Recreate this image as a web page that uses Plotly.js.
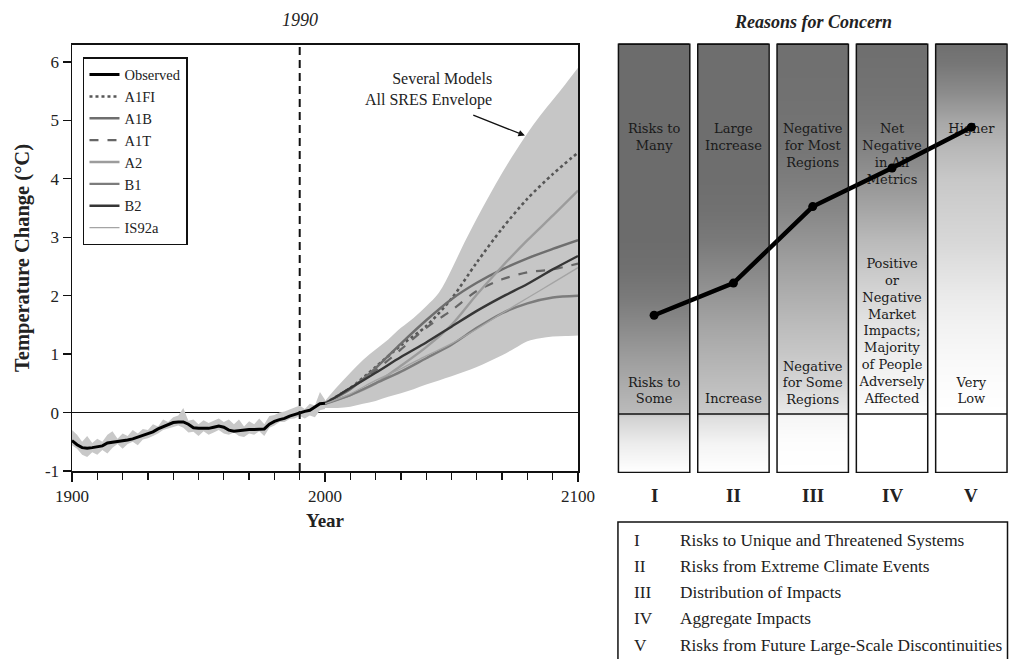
<!DOCTYPE html>
<html><head><meta charset="utf-8">
<script src="https://cdn.plot.ly/plotly-3.0.1.min.js"></script>
<style>html,body{margin:0;padding:0;background:#fff}#chart{width:1013px;height:659px}</style>
</head><body><div id="chart"></div>
<script>
// ---------- DATA ----------
const obsYears = [1900,1902,1904,1906,1908,1910,1912,1914,1916,1918,1920,1922,1924,1926,1928,1930,1932,1934,1936,1938,1940,1942,1944,1946,1948,1950,1952,1954,1956,1958,1960,1962,1964,1966,1968,1970,1972,1974,1976,1978,1980,1982,1984,1986,1988,1990,1992,1994,1996,1998,2000];
const obsTemp = [-0.48,-0.55,-0.60,-0.61,-0.60,-0.59,-0.57,-0.52,-0.51,-0.50,-0.49,-0.47,-0.45,-0.42,-0.40,-0.37,-0.33,-0.28,-0.24,-0.20,-0.17,-0.16,-0.16,-0.20,-0.26,-0.27,-0.27,-0.27,-0.25,-0.23,-0.25,-0.30,-0.32,-0.31,-0.29,-0.29,-0.29,-0.29,-0.28,-0.20,-0.15,-0.12,-0.10,-0.06,-0.03,0.00,0.02,0.04,0.10,0.15,0.16];
const obsBandHi = [-0.30,-0.38,-0.50,-0.40,-0.52,-0.45,-0.50,-0.38,-0.32,-0.45,-0.36,-0.40,-0.30,-0.36,-0.28,-0.30,-0.20,-0.24,-0.12,-0.16,-0.08,-0.05,0.08,-0.14,-0.12,-0.20,-0.13,-0.18,-0.14,-0.10,-0.16,-0.12,-0.20,-0.12,-0.24,-0.15,-0.20,-0.10,-0.20,-0.06,-0.04,0.00,0.02,0.05,0.08,0.12,0.06,0.15,0.12,0.35,0.22];
const obsBandLo = [-0.56,-0.62,-0.72,-0.76,-0.68,-0.72,-0.64,-0.70,-0.60,-0.54,-0.62,-0.54,-0.50,-0.56,-0.46,-0.44,-0.40,-0.36,-0.30,-0.27,-0.24,-0.22,-0.26,-0.34,-0.33,-0.40,-0.32,-0.38,-0.34,-0.30,-0.36,-0.38,-0.34,-0.40,-0.42,-0.36,-0.38,-0.32,-0.40,-0.26,-0.22,-0.16,-0.16,-0.11,-0.10,-0.06,-0.10,-0.05,-0.08,0.04,0.06];

const envYears = [2000,2005,2010,2015,2020,2025,2030,2035,2040,2045,2050,2055,2060,2065,2070,2075,2080,2085,2090,2095,2100];
const envUpper = [0.20,0.45,0.68,0.90,1.08,1.25,1.45,1.62,1.82,2.05,2.45,2.90,3.32,3.72,4.10,4.45,4.78,5.08,5.35,5.62,5.90];
const envLower = [0.08,0.08,0.10,0.15,0.20,0.27,0.33,0.40,0.48,0.55,0.62,0.70,0.78,0.88,0.98,1.10,1.22,1.27,1.30,1.31,1.32];

const projYears = [2000,2010,2020,2030,2040,2050,2060,2070,2080,2090,2100];
const A1FI  = [0.16,0.42,0.78,1.15,1.48,1.95,2.57,3.15,3.66,4.08,4.45];
const A1B   = [0.16,0.40,0.76,1.18,1.58,1.94,2.22,2.45,2.64,2.80,2.95];
const A1T   = [0.16,0.42,0.72,1.08,1.45,1.75,2.08,2.28,2.40,2.45,2.55];
const A2    = [0.16,0.30,0.50,0.80,1.12,1.50,2.02,2.50,2.95,3.37,3.80];
const B1    = [0.15,0.30,0.50,0.70,0.93,1.16,1.45,1.70,1.87,1.97,2.00];
const B2    = [0.15,0.42,0.68,0.95,1.20,1.47,1.74,1.98,2.20,2.45,2.68];
const IS92a = [0.15,0.32,0.55,0.75,0.97,1.18,1.43,1.70,1.96,2.22,2.48];

const concernNumerals = ['I','II','III','IV','V'];
const concernNames = ['Risks to Unique and Threatened Systems','Risks from Extreme Climate Events','Distribution of Impacts','Aggregate Impacts','Risks from Future Large-Scale Discontinuities'];
const concernTopLabels = ['Risks to<br>Many','Large<br>Increase','Negative<br>for Most<br>Regions','Net<br>Negative<br>in All<br>Metrics','Higher'];
const concernLowLabels = ['Risks to<br>Some','Increase','Negative<br>for Some<br>Regions','Positive<br>or<br>Negative<br>Market<br>Impacts;<br>Majority<br>of People<br>Adversely<br>Affected','Very<br>Low'];
const concernLevel = [1.69,2.24,3.55,4.21,4.91];

// shading of each column (gray level 0-255) at temperature levels
const emberLevels = [-1.0,-0.5,-0.05,0.05,0.5,1.0,1.5,2.0,2.5,3.0,3.5,4.0,4.5,5.0,5.5,6.0,6.4];
const emberGray = [
  [255,236,210,186,172,156,138,122,112,108,108,108,108,108,108,108,108],
  [255,244,222,200,190,178,165,150,135,121,113,110,110,110,110,110,110],
  [255,253,246,232,215,200,188,175,162,148,135,125,118,115,113,112,112],
  [255,255,255,252,245,238,228,215,200,185,166,148,132,121,115,112,110],
  [255,255,255,255,252,248,242,235,225,215,208,200,186,168,140,118,110]
];

const yTickVals = [-1,0,1,2,3,4,5,6];
const yTickText = ['-1','0','1','2','3','4','5','6'];

// ---------- STYLE ----------
const SERIF = '"Liberation Serif", "Times New Roman", serif';
const LSERIF = '"DejaVu Serif", serif';
const traces = [];

// envelope
traces.push({x: envYears, y: envLower, mode:'lines', line:{width:0, color:'#c6c6c6', shape:'spline'}, showlegend:false, hoverinfo:'skip'});
traces.push({x: envYears, y: envUpper, mode:'lines', line:{width:0, color:'#c6c6c6', shape:'spline'}, fill:'tonexty', fillcolor:'#c6c6c6', showlegend:false, hoverinfo:'skip'});
// observed band
traces.push({x: obsYears, y: obsBandLo, mode:'lines', line:{width:0, color:'#c8c8c8'}, showlegend:false, hoverinfo:'skip'});
traces.push({x: obsYears, y: obsBandHi, mode:'lines', line:{width:0, color:'#c8c8c8'}, fill:'tonexty', fillcolor:'#c8c8c8', showlegend:false, hoverinfo:'skip'});

const models = [
  {name:'A1FI', y:A1FI, color:'#575757', width:2.6, dash:'dot', rank:2},
  {name:'A1B', y:A1B, color:'#6e6e6e', width:2.4, dash:'solid', rank:3},
  {name:'A1T', y:A1T, color:'#666666', width:2.2, dash:'dash', rank:4},
  {name:'A2', y:A2, color:'#9c9c9c', width:2.4, dash:'solid', rank:5},
  {name:'B1', y:B1, color:'#7c7c7c', width:2.4, dash:'solid', rank:6},
  {name:'B2', y:B2, color:'#363636', width:2.4, dash:'solid', rank:7},
  {name:'IS92a', y:IS92a, color:'#a4a4a4', width:1.3, dash:'solid', rank:8}
];
models.forEach(m => traces.push({x: projYears, y: m.y, name: m.name, mode:'lines',
  line:{color:m.color, width:m.width, dash:m.dash, shape:'spline', smoothing:0.8}, legendrank:m.rank, hoverinfo:'skip'}));
traces.push({x: obsYears, y: obsTemp, name:'Observed', mode:'lines', line:{color:'#000', width:3}, legendrank:1, hoverinfo:'skip'});

// burning embers columns
emberGray.forEach((g, c) => {
  traces.push({type:'heatmap', xaxis:'x2', yaxis:'y2', x:[c+1-0.45, c+1, c+1+0.45], y: emberLevels,
    z: emberLevels.map((_, k) => [g[k], g[k]]), zmin:0, zmax:255, zsmooth:'best',
    colorscale:[[0,'rgb(0,0,0)'],[1,'rgb(255,255,255)']], showscale:false, hoverinfo:'skip', showlegend:false});
});
const topLabelY = [4.72,4.72,4.57,4.43,4.86];
const lowLabelY = [0.38,0.24,0.51,1.40,0.38];
const colX = [1,2,3,4,5];
traces.push({x: colX, y: topLabelY, text: concernTopLabels, mode:'text', xaxis:'x2', yaxis:'y2', textposition:'middle center',
  textfont:{family:LSERIF, size:13, color:'#1a1a1a'}, showlegend:false, hoverinfo:'skip'});
traces.push({x: colX, y: lowLabelY, text: concernLowLabels, mode:'text', xaxis:'x2', yaxis:'y2', textposition:'middle center',
  textfont:{family:LSERIF, size:13, color:'#1a1a1a'}, showlegend:false, hoverinfo:'skip'});
traces.push({x: concernNumerals.map((_, i) => i + 1), y: concernLevel, mode:'lines+markers', xaxis:'x2', yaxis:'y2',
  line:{color:'#000', width:4.5}, marker:{color:'#000', size:9}, showlegend:false, hoverinfo:'skip'});

// ---------- SHAPES & ANNOTATIONS ----------
const shapes = [
  {type:'line', xref:'x', yref:'y', x0:1990, x1:1990, y0:-1, y1:6.29, line:{color:'#111', width:2, dash:'8px,5px'}}
];
concernNumerals.forEach((_, i) => {
  const c = i + 1;
  shapes.push({type:'rect', xref:'x2', yref:'y2', x0:c-0.45, x1:c+0.45, y0:-1, y1:6.33, line:{color:'#111', width:1.5}, fillcolor:'rgba(0,0,0,0)'});
  shapes.push({type:'line', xref:'x2', yref:'y2', x0:c-0.45, x1:c+0.45, y0:0, y1:0, line:{color:'#111', width:1.3}});
});
shapes.push({type:'rect', xref:'x2', yref:'paper', x0:0.544, x1:5.456, y0:-0.46, y1:-0.114, line:{color:'#111', width:1.5}, fillcolor:'rgba(0,0,0,0)'});

const annotations = [
  {text:'<i>1990</i>', xref:'x', yref:'paper', x:1990, y:1.0535, showarrow:false, yanchor:'middle', font:{family:SERIF, size:18, color:'#222'}},
  {text:'<b><i>Reasons for Concern</i></b>', xref:'x2', yref:'paper', x:3, y:1.0488, showarrow:false, yanchor:'middle', font:{family:SERIF, size:18, color:'#222'}},
  {text:'Several Models<br>All SRES Envelope', xref:'x', yref:'y', x:2066.8, y:5.52, xanchor:'right', yanchor:'middle', align:'right', showarrow:false, font:{family:SERIF, size:16, color:'#222'}},
  {text:'', xref:'x', yref:'y', x:2079, y:4.74, ax:2058, ay:5.1, axref:'x', ayref:'y', showarrow:true, arrowhead:2, arrowsize:1, arrowwidth:1.3, arrowcolor:'#111'}
];
const listY = [-0.158,-0.2186,-0.279,-0.3395,-0.4];
concernNumerals.forEach((num, i) => {
  annotations.push({text:'<b>'+num+'</b>', xref:'x2', yref:'paper', x:i+1, y:-0.0512, showarrow:false, yanchor:'middle', font:{family:SERIF, size:19, color:'#222'}});
  annotations.push({text:num, xref:'x2', yref:'paper', x:0.72, y:listY[i], xanchor:'left', yanchor:'middle', showarrow:false, font:{family:SERIF, size:17.3, color:'#222'}});
  annotations.push({text:concernNames[i], xref:'x2', yref:'paper', x:1.30, y:listY[i], xanchor:'left', yanchor:'middle', showarrow:false, font:{family:SERIF, size:17.3, color:'#222'}});
});

const layout = {
  width:1013, height:659,
  margin:{l:72, r:2, t:43, b:186},
  paper_bgcolor:'#fff', plot_bgcolor:'#fff',
  showlegend:true,
  legend:{x:0.0117, y:0.967, xanchor:'left', yanchor:'top', bgcolor:'#fff', bordercolor:'#111', borderwidth:1.5,
    traceorder:'normal', font:{family:SERIF, size:14.5, color:'#222'}, tracegroupgap:0},
  xaxis:{domain:[0,0.5389], range:[1900,2100], anchor:'y', showline:true, mirror:true, linecolor:'#111', linewidth:1.5,
    tickmode:'linear', tick0:1900, dtick:100, ticks:'outside', ticklen:9, tickwidth:1.5, tickcolor:'#111',
    minor:{tickmode:'linear', tick0:1900, dtick:10, ticks:'outside', ticklen:7, tickwidth:1.3, tickcolor:'#111', showgrid:false},
    showgrid:false, zeroline:false, tickfont:{family:SERIF, size:17, color:'#222'},
    title:{text:'<b>Year</b>', font:{family:SERIF, size:19, color:'#222'}, standoff:9}},
  yaxis:{domain:[0.00465,0.99535], range:[-1,6.29], anchor:'x', showline:true, mirror:true, linecolor:'#111', linewidth:1.5,
    tickmode:'array', tickvals:yTickVals, ticktext:yTickText, ticks:'outside', ticklen:8, tickwidth:1.3, tickcolor:'#111',
    showgrid:false, zeroline:true, zerolinecolor:'#111', zerolinewidth:1.3, tickfont:{family:SERIF, size:17, color:'#222'},
    title:{text:'<b>Temperature Change (°C)</b>', font:{family:SERIF, size:20.5, color:'#222'}, standoff:10}},
  xaxis2:{domain:[0.5777,1], range:[0.5,5.5], anchor:'y2', visible:false, fixedrange:true},
  yaxis2:{domain:[0,1], range:[-1.01,6.35], anchor:'x2', visible:false, fixedrange:true},
  shapes: shapes,
  annotations: annotations
};

Plotly.newPlot('chart', traces, layout, {displayModeBar:false, staticPlot:true});
</script></body></html>
